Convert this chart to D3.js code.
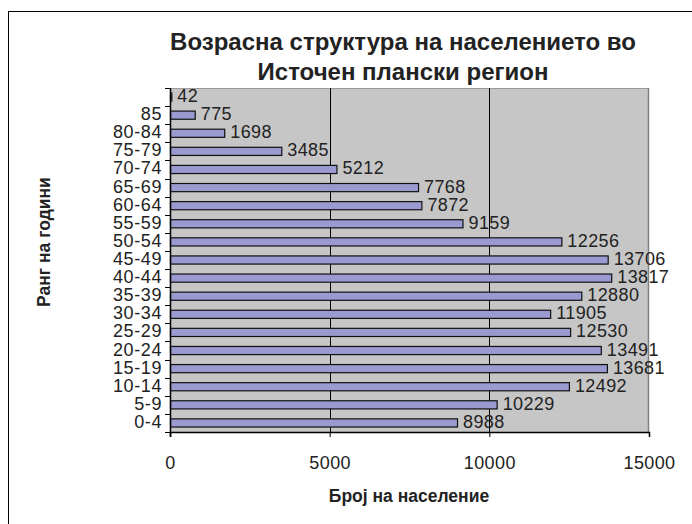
<!DOCTYPE html>
<html>
<head>
<meta charset="utf-8">
<script src="https://cdn.jsdelivr.net/npm/d3@7"></script>
<style>
  body { margin: 0; background: #fff; }
  svg { display: block; font-family: "Liberation Sans", Arial, sans-serif; }
</style>
</head>
<body>
<script>
// age groups, bottom to top (top one has no label in the original)
var ageGroups = ["0-4", "5-9", "10-14", "15-19", "20-24", "25-29", "30-34", "35-39", "40-44",
                 "45-49", "50-54", "55-59", "60-64", "65-69", "70-74", "75-79", "80-84", "85", ""];
var population = [8988, 10229, 12492, 13681, 13491, 12530, 11905, 12880, 13817,
                  13706, 12256, 9159, 7872, 7768, 5212, 3485, 1698, 775, 42];
var xTicks = [0, 5000, 10000, 15000];
var titleLines = ["Возрасна структура на населението во", "Источен плански регион"];

var W = 692, H = 524;
var margin = {left: 170, top: 88, right: 43, bottom: 92};

var svg = d3.select("body").append("svg").attr("width", W).attr("height", H);

// outer chart frame (runs off the picture on the right and bottom)
svg.append("rect")
    .attr("x", 8.5).attr("y", 11.5)
    .attr("width", 800).attr("height", 600)
    .attr("fill", "none").attr("stroke", "#000");

var x = d3.scaleLinear().domain([0, 15000]).range([margin.left, W - margin.right]);
var y = d3.scaleBand()
    .domain(d3.range(ageGroups.length))
    .range([H - margin.bottom, margin.top]);

// plot area
svg.append("rect")
    .attr("x", x(0)).attr("y", margin.top)
    .attr("width", x(15000) - x(0)).attr("height", H - margin.bottom - margin.top)
    .attr("fill", "#c6c6c6");
svg.append("line")
    .attr("x1", x(0)).attr("x2", x(15000))
    .attr("y1", margin.top + 0.5).attr("y2", margin.top + 0.5)
    .attr("stroke", "#9a9a9a");
svg.append("line")
    .attr("x1", x(15000) - 0.5).attr("x2", x(15000) - 0.5)
    .attr("y1", margin.top).attr("y2", H - margin.bottom)
    .attr("stroke", "#808080").attr("stroke-width", 1.5);

// gridlines
svg.selectAll(".grid")
    .data([5000, 10000])
    .enter().append("line")
    .attr("x1", function(d) { return Math.round(x(d)) + 0.5; })
    .attr("x2", function(d) { return Math.round(x(d)) + 0.5; })
    .attr("y1", margin.top).attr("y2", H - margin.bottom)
    .attr("stroke", "#000");

// bars
var bh = y.bandwidth() * 0.45;
svg.selectAll(".bar")
    .data(population)
    .enter().append("rect")
    .attr("class", "bar")
    .attr("x", x(0) + 0.5)
    .attr("y", function(d, i) { return y(i) + (y.bandwidth() - bh) / 2; })
    .attr("width", function(d) { return Math.max(0, x(d) - x(0)); })
    .attr("height", bh)
    .attr("fill", "#9a9ad0")
    .attr("stroke", "#111").attr("stroke-width", 1.2);

// value labels
svg.selectAll(".val")
    .data(population)
    .enter().append("text")
    .attr("x", function(d) { return x(d) + 6; })
    .attr("y", function(d, i) { return y(i) + y.bandwidth() / 2 - 1; })
    .attr("dominant-baseline", "central")
    .attr("font-size", 18).attr("letter-spacing", 0.4)
    .attr("fill", "#222")
    .text(function(d) { return d; });

// x axis
var xAxis = svg.append("g")
    .attr("transform", "translate(0," + (H - margin.bottom) + ")")
    .call(d3.axisBottom(x).tickValues(xTicks).tickFormat(d3.format("d")).tickSize(5).tickPadding(19));
xAxis.select(".domain").attr("stroke", "#000").attr("stroke-width", 1.5);
xAxis.selectAll(".tick line").attr("stroke", "#000");
xAxis.selectAll("text").attr("font-size", 18).attr("fill", "#222")
    .attr("letter-spacing", 0.4)
    .attr("font-family", "Liberation Sans, Arial, sans-serif");

// y axis: ticks at band boundaries
var yAxis = svg.append("g");
yAxis.append("line")
    .attr("x1", x(0) + 0.5).attr("x2", x(0) + 0.5)
    .attr("y1", margin.top).attr("y2", H - margin.bottom + 5)
    .attr("stroke", "#000").attr("stroke-width", 1.5);
yAxis.selectAll(".ytick")
    .data(d3.range(ageGroups.length + 1))
    .enter().append("line")
    .attr("x1", x(0) - 5).attr("x2", x(0))
    .attr("y1", function(i) { return Math.round(H - margin.bottom - i * y.bandwidth()) + 0.5; })
    .attr("y2", function(i) { return Math.round(H - margin.bottom - i * y.bandwidth()) + 0.5; })
    .attr("stroke", "#000");
yAxis.selectAll(".ylab")
    .data(ageGroups)
    .enter().append("text")
    .attr("x", x(0) - 8)
    .attr("y", function(d, i) { return y(i) + y.bandwidth() / 2 - 1; })
    .attr("text-anchor", "end")
    .attr("dominant-baseline", "central")
    .attr("font-size", 18).attr("letter-spacing", 0.6)
    .attr("fill", "#222")
    .text(function(d) { return d; });

// titles
svg.selectAll(".title")
    .data(titleLines)
    .enter().append("text")
    .attr("x", 403)
    .attr("y", function(d, i) { return 50 + i * 30; })
    .attr("text-anchor", "middle")
    .attr("font-size", 24).attr("font-weight", "bold")
    .attr("fill", "#222")
    .text(function(d) { return d; });

svg.append("text")
    .attr("x", 409).attr("y", 502)
    .attr("text-anchor", "middle")
    .attr("font-size", 17.5).attr("font-weight", "bold")
    .attr("fill", "#222")
    .text("Број на население");

svg.append("text")
    .attr("transform", "translate(50,242) rotate(-90)")
    .attr("text-anchor", "middle")
    .attr("font-size", 17.5).attr("font-weight", "bold")
    .attr("fill", "#222")
    .text("Ранг на години");
</script>
</body>
</html>
